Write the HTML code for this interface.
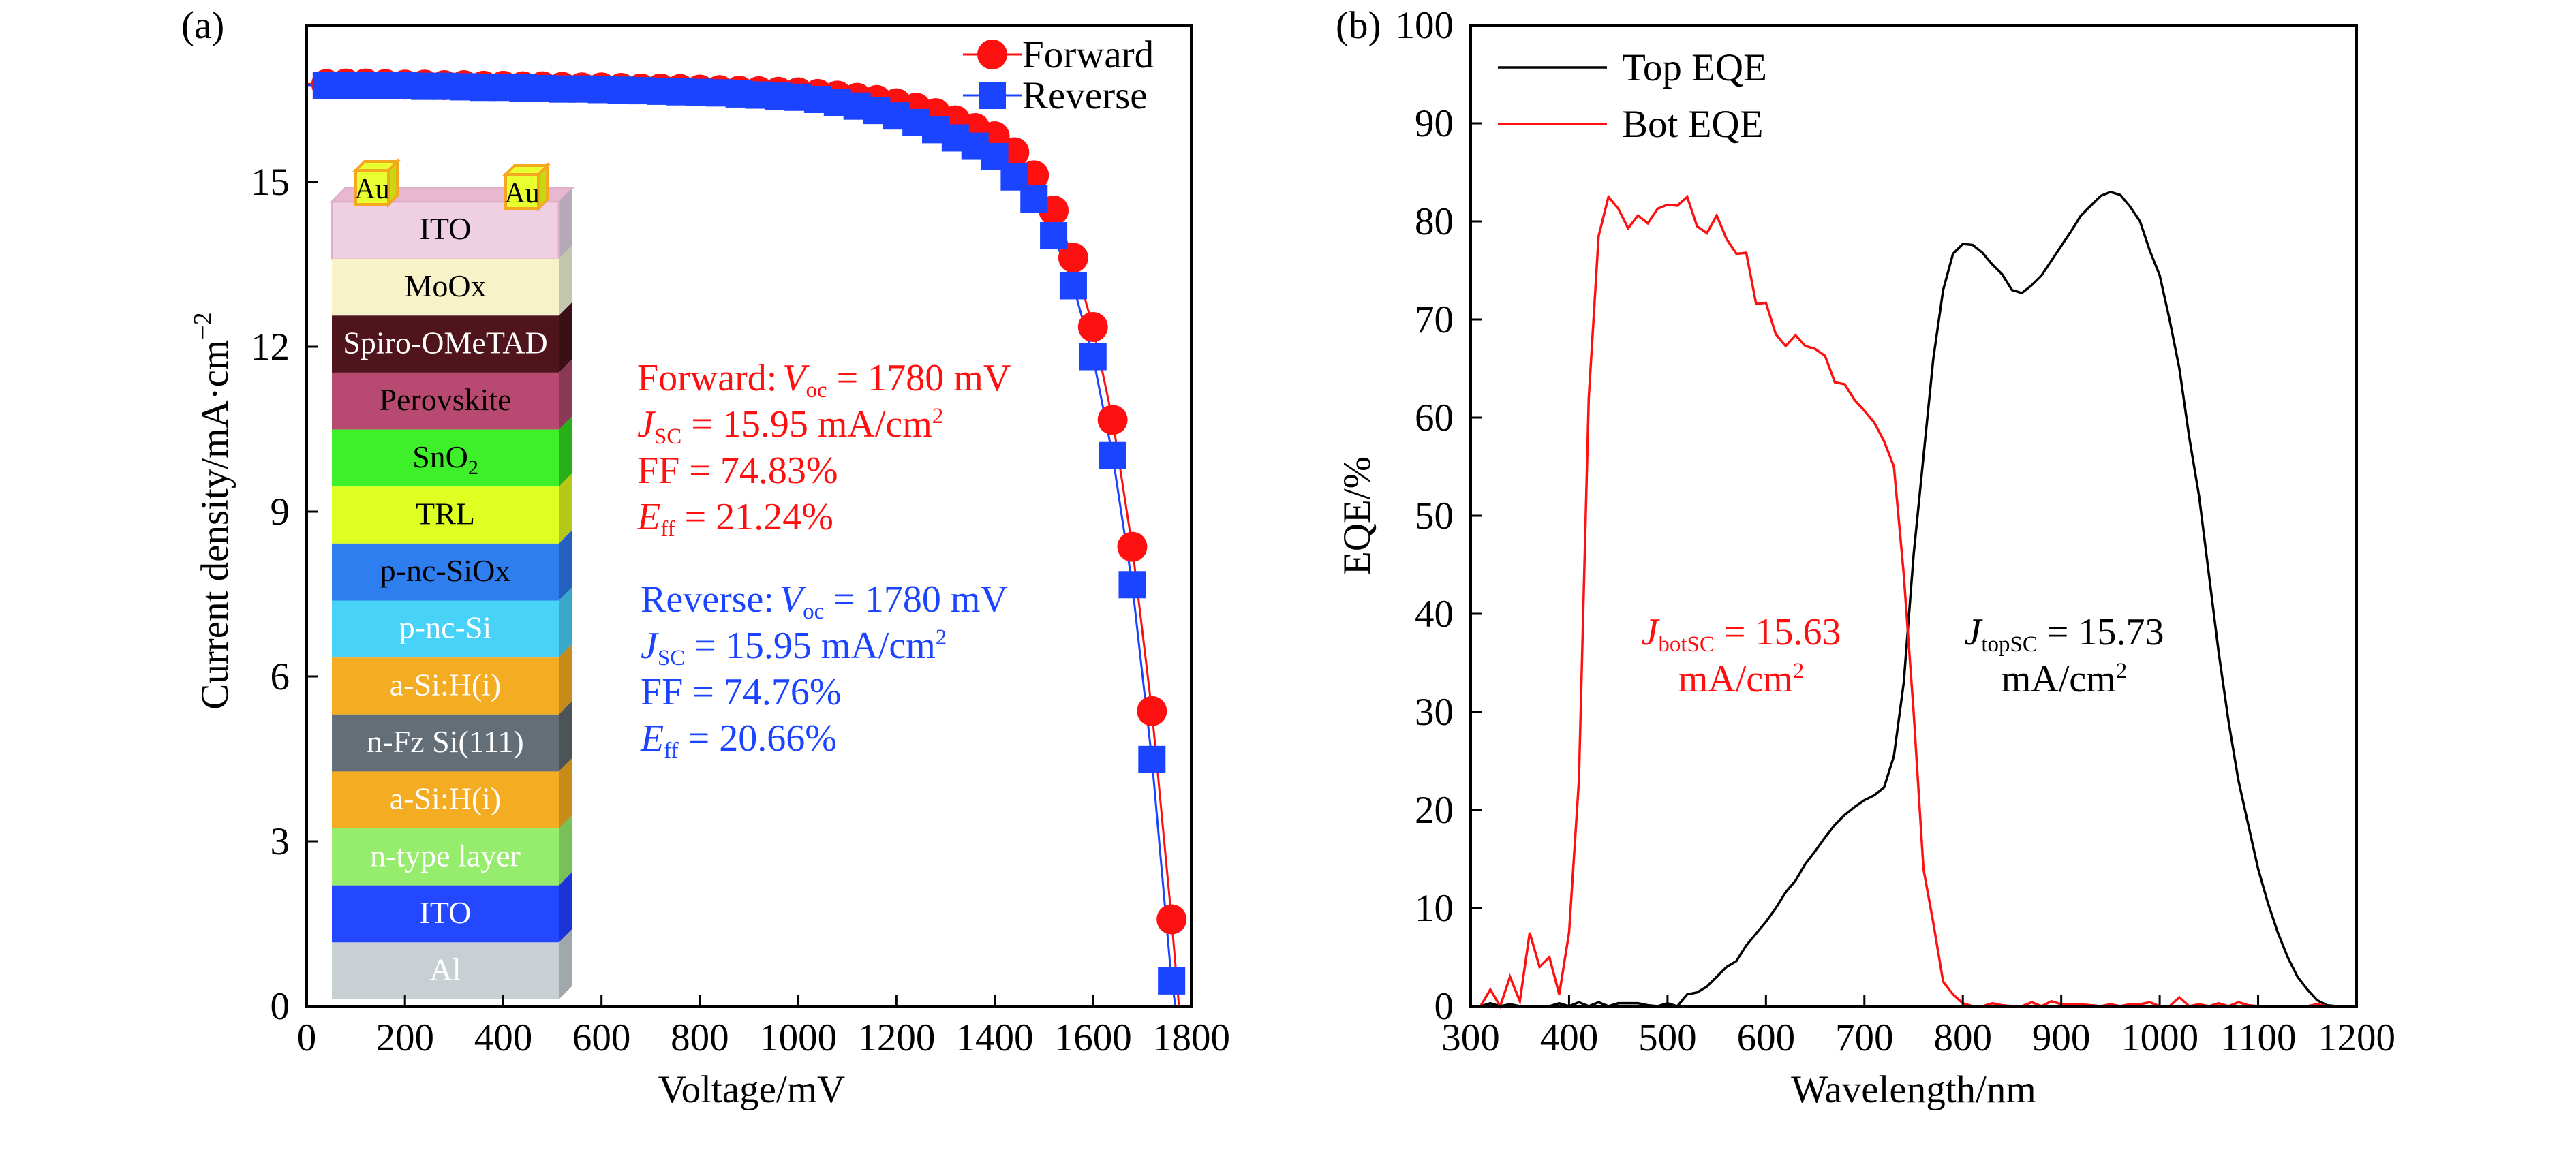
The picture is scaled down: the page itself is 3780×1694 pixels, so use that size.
<!DOCTYPE html>
<html><head><meta charset="utf-8"><style>
html,body{margin:0;padding:0;background:#fff;overflow:hidden;}
svg{display:block;font-family:"Liberation Serif","DejaVu Serif",serif;}
</style></head><body>
<svg id="fig" width="3780" height="1694" viewBox="0 0 3780 1694">
<g id="pa"></g>
<g id="pb"></g>
</svg>
<script>
// ---- Panel (a) data ----
const voltages = [40,80,120,160,200,240,280,320,360,400,440,480,520,560,600,640,680,720,760,800,840,880,920,960,1000,1040,1080,1120,1160,1200,1240,1280,1320,1360,1400,1440,1480,1520,1560,1600,1640,1680,1720,1760];
const fwdJ = [16.78,16.79,16.79,16.78,16.77,16.77,16.76,16.76,16.75,16.75,16.74,16.74,16.73,16.72,16.72,16.71,16.7,16.7,16.69,16.68,16.67,16.66,16.65,16.64,16.63,16.6,16.57,16.53,16.49,16.43,16.35,16.25,16.12,15.98,15.83,15.54,15.12,14.48,13.62,12.36,10.67,8.36,5.37,1.58];
const revJ = [16.76,16.76,16.76,16.75,16.75,16.74,16.74,16.73,16.72,16.72,16.71,16.7,16.69,16.69,16.68,16.67,16.66,16.65,16.64,16.63,16.62,16.6,16.58,16.56,16.54,16.5,16.45,16.38,16.3,16.2,16.08,15.95,15.8,15.65,15.46,15.09,14.69,14.02,13.11,11.82,10.02,7.67,4.49,0.46];
const vocF = 1775, vocR = 1768;
const xTicksA = [0,200,400,600,800,1000,1200,1400,1600,1800];
const yTicksA = [0,3,6,9,12,15];
const layerNames = ["ITO","MoOx","Spiro-OMeTAD","Perovskite","SnO2","TRL","p-nc-SiOx","p-nc-Si","a-Si:H(i)","n-Fz Si(111)","a-Si:H(i)","n-type layer","ITO","Al"];

// ---- Panel (b) data ----
const wl = [];
for (let w=310; w<=1200; w+=10) wl.push(w);
const topEQE = [0,0.3,0,0.2,0,0,0,0,0.3,0,0.4,0,0.4,0,0.3,0.3,0.3,0.1,0,0.3,0,1.2,1.4,2,3,4,4.6,6.2,7.4,8.6,10,11.6,12.8,14.5,15.8,17.2,18.5,19.5,20.3,21,21.5,22.3,25.5,33,46,56,66,73,76.7,77.7,77.6,76.8,75.6,74.6,73,72.7,73.5,74.5,76,77.5,79,80.6,81.6,82.6,83,82.7,81.5,80,77,74.5,70,65,58,52,44,36,29,23,18.5,14,10.5,7.5,5,3,1.7,0.6,0.1,0,0,0];
const botEQE = [0,1.7,0,3,0.5,7.5,4,5,1.2,7.5,23,62,78.5,82.5,81.3,79.3,80.6,79.8,81.3,81.7,81.6,82.5,79.5,78.8,80.6,78.2,76.7,76.8,71.6,71.7,68.5,67.3,68.4,67.3,67,66.3,63.6,63.4,61.8,60.7,59.5,57.6,55,44,30,14,8.5,2.5,1.2,0.3,0,0,0.3,0.1,0,0,0.4,0,0.5,0.2,0.2,0.2,0.1,0,0.2,0,0.2,0.2,0.4,0,0,0.9,0,0.2,0,0.3,0,0.4,0.1,0,0,0,0,0,0,0.2,0,0,0,0];
const xTicksB = [300,400,500,600,700,800,900,1000,1100,1200];
const yTicksB = [0,10,20,30,40,50,60,70,80,90,100];

const NS="http://www.w3.org/2000/svg";
function mk(parent, tag, attrs, text){
  const e=document.createElementNS(NS,tag);
  for(const k in attrs) e.setAttribute(k,attrs[k]);
  if(text!==undefined) e.textContent=text;
  parent.appendChild(e); return e;
}
const FS=57;
const TB=1542;

// ===== Panel A =====
const A=document.getElementById('pa');
const aL=450,aR=1748,aT=37,aB=1477;
const ax=v=>aL+v/1800*(aR-aL);
const ay=j=>aB-j*(aB-267)/15;

const stackCols=[["#efd0e2","#e8b8d0","#b6a8b8"],["#f7f2c8","#eeeab8","#c2c6ac"],["#4f141c","#3a0c12","#3a1016"],["#b84a72","#b05078","#8a3a56"],["#3ef02a","#30d81e","#28b018"],["#deff22","#cef01a","#b4c818"],["#2e7ef0","#3a8cff","#2460c0"],["#48d2f8","#52dcff","#3aa8c8"],["#f4ac22","#f6b030","#c88a18"],["#646e76","#6c767e","#4c5458"],["#f4ac22","#f6b030","#c88a18"],["#96ec6c","#a0f078","#78c058"],["#2448ff","#2a50ff","#1a34d8"],["#c8d0d4","#d0d8dc","#a0a8ac"]];
const txtCols=["#000","#000","#fff","#000","#000","#000","#000","#fff","#fff","#fff","#fff","#fff","#fff","#fff"];
const sx0=487,sx1=820,dep=20,sTop=296,lh=(1467-296)/14;
const stack=mk(A,'g',{});


layerNames.forEach((n,i)=>{
  const y0=sTop+i*lh, y1=y0+lh, c=stackCols[i];
  const g=mk(stack,'g',{});
  
  
  if(i===0) mk(g,'polygon',{points:`${sx0},${y0} ${sx0+dep},${y0-dep} ${sx1+dep},${y0-dep} ${sx1},${y0}`,fill:c[1],stroke:"#e0b0c8","stroke-width":3});
  mk(g,'polygon',{points:`${sx1},${y0} ${sx1+dep},${y0-dep} ${sx1+dep},${y1-dep} ${sx1},${y1}`,fill:c[2]});
  mk(g,'rect',{x:sx0,y:y0,width:sx1-sx0,height:lh,fill:c[0],stroke:i===0?"#e0b0c8":"none","stroke-width":3});
  if(n==="SnO2"){
    const t=mk(g,'text',{x:(sx0+sx1)/2,y:y0+lh*0.66,"text-anchor":"middle","font-size":46,fill:txtCols[i]},"SnO");
    mk(t,'tspan',{"font-size":30,dy:10},"2");
  } else mk(g,'text',{x:(sx0+sx1)/2,y:y0+lh*0.66,"text-anchor":"middle","font-size":46,fill:txtCols[i]},n);
});
[522,742].forEach((x,k)=>{
  const g=mk(stack,'g',{});
  
  
  const w=48,h=50,d=13,y=250+k*6;
  mk(g,'polygon',{points:`${x},${y} ${x+d},${y-d} ${x+w+d},${y-d} ${x+w},${y}`,fill:"#e8ff30",stroke:"#f4a820","stroke-width":4});
  mk(g,'polygon',{points:`${x+w},${y} ${x+w+d},${y-d} ${x+w+d},${y+h-d} ${x+w},${y+h}`,fill:"#c8d810",stroke:"#f4a820","stroke-width":4});
  mk(g,'rect',{x:x,y:y,width:w,height:h,fill:"#e8ff30",stroke:"#f4a820","stroke-width":4});
  mk(g,'text',{x:x+w/2,y:y+h-9,"text-anchor":"middle","font-size":42},"Au");
});

function poly(par,xs,ys,fx,fy,col,w,name){
  const p=mk(par,'polyline',{points:xs.map((v,i)=>fx(v)+","+fy(ys[i])).join(" "),fill:"none",stroke:col,"stroke-width":w});
  
  
  return p;
}
const fX=[0].concat(voltages,[vocF]), fY=[fwdJ[0]].concat(fwdJ,[0]);
const rX=[0].concat(voltages,[vocR]), rY=[revJ[0]].concat(revJ,[0]);
poly(A,fX,fY,ax,ay,"#ff1010",3,'forward-line');
poly(A,rX,rY,ax,ay,"#1a44ff",3,'reverse-line');
const fm=mk(A,'g',{});


voltages.forEach((v,i)=>{
  const c=mk(fm,'circle',{cx:ax(v),cy:ay(fwdJ[i]),r:22,fill:"#ff1010"});
  
  
});
const rm=mk(A,'g',{});


voltages.forEach((v,i)=>{
  const s=mk(rm,'rect',{x:ax(v)-20,y:ay(revJ[i])-20,width:40,height:40,fill:"#1a44ff"});
  
  
});

function frame(par,L,R,T,B){
  const f=mk(par,'rect',{x:L,y:T,width:R-L,height:B-T,fill:"none",stroke:"#000","stroke-width":4});
  
  
}
frame(A,aL,aR,aT,aB);
xTicksA.forEach(t=>{
  mk(A,'line',{x1:ax(t),x2:ax(t),y1:aB,y2:aB-17,stroke:"#000","stroke-width":3});
  const l=mk(A,'text',{x:ax(t),y:TB,"text-anchor":"middle","font-size":FS},t);
  
  
});
yTicksA.forEach(t=>{
  mk(A,'line',{x1:aL,x2:aL+17,y1:ay(t),y2:ay(t),stroke:"#000","stroke-width":3});
  const l=mk(A,'text',{x:425,y:ay(t)+19,"text-anchor":"end","font-size":FS},t);
  
  
});
let t;
t=mk(A,'text',{x:1103,y:1618,"text-anchor":"middle","font-size":FS},"Voltage/mV");
 
t=mk(A,'text',{x:0,y:0,"text-anchor":"middle","font-size":FS,transform:"translate(334,750) rotate(-90)"},"Current density/mA·cm");
mk(t,'tspan',{"font-size":38,dy:-24},"−2");
 
t=mk(A,'text',{x:266,y:56,"font-size":FS},"(a)");
 

const lgA=mk(A,'g',{});


mk(lgA,'line',{x1:1413,x2:1500,y1:80,y2:80,stroke:"#ff1010","stroke-width":3});
mk(lgA,'circle',{cx:1456,cy:80,r:22,fill:"#ff1010"});
mk(lgA,'text',{x:1500,y:99,"font-size":FS},"Forward");
mk(lgA,'line',{x1:1413,x2:1500,y1:140,y2:140,stroke:"#1a44ff","stroke-width":3});
mk(lgA,'rect',{x:1436,y:120,width:40,height:40,fill:"#1a44ff"});
mk(lgA,'text',{x:1500,y:159,"font-size":FS},"Reverse");

function ann(par,x,ys,col,lead,vals,name){
  const g=mk(par,'g',{fill:col,"font-size":56});
  
  
  let e=mk(g,'text',{x:x,y:ys[0]},lead+":");
  mk(e,'tspan',{"font-style":"italic",dx:8},"V");
  mk(e,'tspan',{"font-size":33,dy:10},"oc");
  mk(e,'tspan',{dy:-10},"  = 1780 mV");
  e=mk(g,'text',{x:x,y:ys[1]});
  mk(e,'tspan',{"font-style":"italic"},"J");
  mk(e,'tspan',{"font-size":33,dy:10},"SC");
  mk(e,'tspan',{dy:-10},"  = "+vals[0]+" mA/cm");
  mk(e,'tspan',{"font-size":33,dy:-20},"2");
  mk(g,'text',{x:x,y:ys[2]},"FF = "+vals[1]+"%");
  e=mk(g,'text',{x:x,y:ys[3]});
  mk(e,'tspan',{"font-style":"italic"},"E");
  mk(e,'tspan',{"font-size":33,dy:10},"ff");
  mk(e,'tspan',{dy:-10}," = "+vals[2]+"%");
}
ann(A,935,[573,641,709,777],"#ff1010","Forward",["15.95","74.83","21.24"],'forward-annotation');
ann(A,940,[898,966,1034,1102],"#1a44ff","Reverse",["15.95","74.76","20.66"],'reverse-annotation');

// ===== Panel B =====
const B=document.getElementById('pb');
const bL=2158,bR=3458,bT=37,bB=1477;
const bx=w=>bL+(w-300)/900*(bR-bL);
const by=v=>bB-v/100*(bB-bT);
poly(B,wl,topEQE,bx,by,"#000",3.5,'top-eqe-line');
poly(B,wl,botEQE,bx,by,"#ff1010",3.5,'bot-eqe-line');
frame(B,bL,bR,bT,bB);
xTicksB.forEach(v=>{
  mk(B,'line',{x1:bx(v),x2:bx(v),y1:bB,y2:bB-17,stroke:"#000","stroke-width":3});
  const l=mk(B,'text',{x:bx(v),y:TB,"text-anchor":"middle","font-size":FS},v);
  
  
});
yTicksB.forEach(v=>{
  mk(B,'line',{x1:bL,x2:bL+17,y1:by(v),y2:by(v),stroke:"#000","stroke-width":3});
  const l=mk(B,'text',{x:2133,y:by(v)+19,"text-anchor":"end","font-size":FS},v);
  
  
});
t=mk(B,'text',{x:2808,y:1618,"text-anchor":"middle","font-size":FS},"Wavelength/nm");
 
t=mk(B,'text',{x:0,y:0,"text-anchor":"middle","font-size":FS,transform:"translate(2010,757) rotate(-90)"},"EQE/%");
 
t=mk(B,'text',{x:1960,y:56,"font-size":FS},"(b)");
 
const lgB=mk(B,'g',{});


mk(lgB,'line',{x1:2198,x2:2358,y1:99,y2:99,stroke:"#000","stroke-width":3.5});
mk(lgB,'text',{x:2380,y:118,"font-size":FS},"Top EQE");
mk(lgB,'line',{x1:2198,x2:2358,y1:182,y2:182,stroke:"#ff1010","stroke-width":3.5});
mk(lgB,'text',{x:2380,y:201,"font-size":FS},"Bot EQE");
function jann(x,col,sub,val,name){
  const g=mk(B,'g',{fill:col,"font-size":56,"text-anchor":"middle"});
  
  
  let e=mk(g,'text',{x:x,y:946});
  mk(e,'tspan',{"font-style":"italic"},"J");
  mk(e,'tspan',{"font-size":33,dy:10},sub);
  mk(e,'tspan',{dy:-10}," = "+val);
  e=mk(g,'text',{x:x,y:1015},"mA/cm");
  mk(e,'tspan',{"font-size":33,dy:-20},"2");
}
jann(2555,"#ff1010","botSC","15.63",'bot-jsc-annotation');
jann(3029,"#000","topSC","15.73",'top-jsc-annotation');
</script>
</body></html>
